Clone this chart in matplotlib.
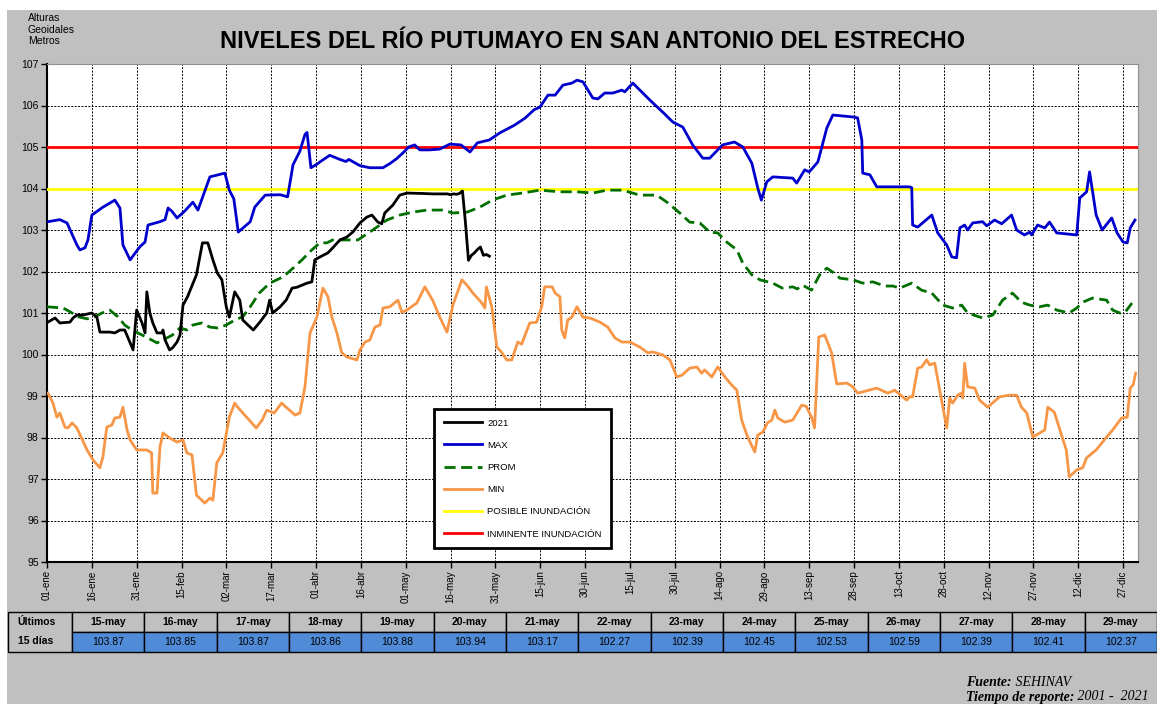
import numpy as np
import pandas as pd
import matplotlib
matplotlib.use('Agg')
import matplotlib.pyplot as plt
from matplotlib.patches import Rectangle

plt.rcParams['font.family'] = ['Liberation Sans', 'DejaVu Sans']

# --- data (day of year 0 = 01-ene, value in m) ---
tick_labels = ['01-ene', '16-ene', '31-ene', '15-feb', '02-mar', '17-mar', '01-abr', '16-abr',
               '01-may', '16-may', '31-may', '15-jun', '30-jun', '15-jul', '30-jul', '14-ago',
               '29-ago', '13-sep', '28-sep', '13-oct', '28-oct', '12-nov', '27-nov', '12-dic',
               '27-dic']

table_dates = ['15-may', '16-may', '17-may', '18-may', '19-may', '20-may', '21-may', '22-may',
               '23-may', '24-may', '25-may', '26-may', '27-may', '28-may', '29-may']
table_vals = [103.87, 103.85, 103.87, 103.86, 103.88, 103.94, 103.17, 102.27,
              102.39, 102.45, 102.53, 102.59, 102.39, 102.41, 102.37]

max_pts = [(0.3, 103.2), (4.3, 103.25), (6.7, 103.17), (8.4, 102.9), (10, 102.64), (11, 102.52),
           (12.7, 102.57), (13.7, 102.76), (15, 103.36), (18.7, 103.55), (22.7, 103.72),
           (24.4, 103.53), (25.4, 102.64), (27.8, 102.28), (31.1, 102.6), (32.8, 102.71),
           (33.8, 103.12), (37.8, 103.2), (39.5, 103.25), (40.5, 103.53), (41.8, 103.45),
           (43.5, 103.29), (46, 103.45), (48.8, 103.67), (50.5, 103.48), (54.5, 104.28),
           (59.5, 104.37), (61, 103.96), (62.5, 103.75), (64, 102.95), (68, 103.2), (69.5, 103.55),
           (73, 103.84), (78, 103.85), (80.5, 103.8), (82.3, 104.57), (84.6, 104.9), (86.3, 105.3),
           (87, 105.35), (88.3, 104.5), (90.6, 104.6), (91.3, 104.64), (94.6, 104.8), (98, 104.7),
           (100, 104.65), (101, 104.7), (104.7, 104.55), (108, 104.5), (112.4, 104.5),
           (114.7, 104.6), (117, 104.72), (119.4, 104.88), (121, 105.0), (123, 105.05),
           (124.7, 104.93), (128, 104.93), (131.4, 104.95), (134.8, 105.07), (138.5, 105.05),
           (141.5, 104.88), (144, 105.1), (148, 105.17), (151.5, 105.34), (156.5, 105.53),
           (160, 105.7), (163, 105.9), (164.9, 105.96), (167.6, 106.25), (170, 106.25),
           (172.6, 106.49), (175.6, 106.54), (177.3, 106.61), (179.3, 106.57), (182.6, 106.18),
           (184.3, 106.16), (186.6, 106.3), (189.3, 106.3), (192.3, 106.37), (193.3, 106.33),
           (196, 106.54), (201.7, 106.13), (206, 105.84), (209.4, 105.6), (212.7, 105.48),
           (216, 105.05), (219.4, 104.73), (221.7, 104.73), (226, 105.05), (230, 105.12),
           (232.8, 105.0), (235.8, 104.61), (237.8, 104.01), (239, 103.72), (240.8, 104.16),
           (242.8, 104.28), (249.5, 104.25), (250.8, 104.13), (253.5, 104.45), (255, 104.4),
           (257.9, 104.64), (260.9, 105.46), (262.9, 105.77), (270.2, 105.72), (271.2, 105.7),
           (272.6, 105.17), (272.9, 104.37), (275.3, 104.33), (277.6, 104.04), (288.6, 104.04),
           (289.3, 104.02), (289.6, 103.12), (291.3, 103.07), (296, 103.36), (298, 102.93),
           (301, 102.64), (302.7, 102.35), (304.3, 102.33), (305.4, 103.05), (307, 103.12),
           (308, 103.0), (309.7, 103.17), (313, 103.2), (314.4, 103.1), (317, 103.24),
           (319.4, 103.15), (322.7, 103.36), (324.4, 103.0), (327, 102.88), (328.8, 102.95),
           (329.4, 102.88), (331.4, 103.12), (333.8, 103.05), (335.4, 103.19), (337.8, 102.93),
           (344.5, 102.88), (345.5, 103.77), (347.8, 103.92), (348.8, 104.4), (351, 103.36),
           (353, 103.0), (356.2, 103.29), (358, 102.93), (360, 102.71), (361.4, 102.69),
           (362.4, 103.05), (364, 103.24)]

prom_pts = [(0, 101.15), (5.4, 101.12), (7.7, 101.03), (10.4, 100.91), (13.4, 100.86), (16, 100.91),
            (18.4, 101.0), (21, 101.07), (23.7, 100.91), (26, 100.71), (28.4, 100.59),
            (31.8, 100.47), (35, 100.35), (36.8, 100.28), (38.8, 100.35), (42, 100.47),
            (44.5, 100.64), (46.8, 100.59), (48.8, 100.71), (51.8, 100.76), (54.5, 100.66),
            (57, 100.64), (60, 100.71), (62.8, 100.83), (65.5, 100.91), (68, 101.15), (71, 101.48),
            (74.5, 101.72), (79, 101.87), (82.3, 102.08), (85.3, 102.28), (88.6, 102.52),
            (91.3, 102.69), (93.6, 102.69), (95.6, 102.76), (99, 102.76), (104, 102.76),
            (109, 103.0), (113.7, 103.24), (118, 103.36), (122.4, 103.43), (127, 103.48),
            (132.4, 103.48), (135.8, 103.41), (140.5, 103.43), (144.8, 103.55), (149, 103.72),
            (153.8, 103.84), (159, 103.89), (164.9, 103.96), (171.6, 103.92), (177.3, 103.92),
            (182.6, 103.89), (187.3, 103.96), (192.6, 103.96), (198.3, 103.84), (204, 103.84),
            (207.4, 103.67), (211.7, 103.41), (215, 103.19), (218.4, 103.17), (221.7, 102.95),
            (224.4, 102.93), (227.4, 102.71), (230.8, 102.52), (232.8, 102.2), (235.8, 101.92),
            (238.5, 101.8), (242.8, 101.72), (246, 101.6), (249.5, 101.63), (251, 101.58),
            (252.8, 101.67), (255.8, 101.55), (258.5, 101.92), (260.9, 102.08), (264.2, 101.92),
            (265.2, 101.84), (269.6, 101.8), (272.9, 101.72), (276.3, 101.75), (280.3, 101.65),
            (283, 101.65), (285.3, 101.6), (289.3, 101.72), (292.6, 101.55), (296, 101.48),
            (299.7, 101.19), (303, 101.12), (306, 101.19), (308, 101.0), (313, 100.88),
            (316.4, 100.95), (319.7, 101.31), (323, 101.48), (326, 101.26), (328.8, 101.19),
            (332, 101.15), (334.8, 101.19), (337.8, 101.07), (342, 101.0), (344.5, 101.12),
            (346.5, 101.26), (349.8, 101.36), (354.5, 101.31), (356.5, 101.07), (358.9, 101.0),
            (360.7, 101.02), (363, 101.24)]

min_pts = [(0.3, 99.07), (2, 98.83), (3.3, 98.49), (4.3, 98.59), (6, 98.25), (7, 98.23), (8.4, 98.35),
           (10, 98.23), (13.4, 97.7), (15.4, 97.46), (17.7, 97.27), (18.7, 97.53), (20, 98.25),
           (21.7, 98.3), (22.7, 98.47), (24.4, 98.49), (25.4, 98.73), (26.8, 98.18), (27.8, 97.94),
           (30, 97.7), (33.4, 97.7), (35, 97.63), (35.4, 96.66), (36.8, 96.66), (37.8, 97.77),
           (38.8, 98.11), (41, 97.99), (43.5, 97.89), (45.5, 97.94), (46.8, 97.63), (48.5, 97.58),
           (50, 96.61), (52.8, 96.42), (54.5, 96.54), (55.5, 96.49), (56.8, 97.39), (58.8, 97.63),
           (61, 98.49), (62.8, 98.83), (63.8, 98.73), (66.8, 98.49), (70, 98.23), (72, 98.42),
           (73.5, 98.66), (76, 98.59), (78.5, 98.83), (80, 98.73), (83, 98.54), (84.6, 98.59),
           (86.3, 99.22), (88, 100.52), (90.3, 100.9), (92.3, 101.6), (94, 101.39), (95.3, 100.9),
           (97, 100.52), (98.6, 100.04), (100.3, 99.94), (103.7, 99.87), (104.7, 100.11),
           (106.4, 100.3), (108, 100.35), (109.7, 100.66), (111.4, 100.71), (112.4, 101.12),
           (114.7, 101.15), (117.4, 101.31), (118.7, 101.02), (120.4, 101.07), (123.7, 101.24),
           (126.4, 101.63), (129, 101.31), (131.4, 100.9), (133.8, 100.54), (135.8, 101.19),
           (138.8, 101.8), (140.5, 101.67), (142.5, 101.48), (145.5, 101.24), (146.5, 101.12),
           (147, 101.63), (148.8, 101.15), (150.5, 100.18), (152, 100.06), (153.8, 99.87),
           (155.5, 99.87), (157.5, 100.3), (158.8, 100.25), (161.5, 100.76), (163.8, 100.78),
           (165.5, 101.15), (166.5, 101.63), (169, 101.63), (170, 101.48), (171.6, 101.39),
           (172.2, 100.59), (173.2, 100.4), (174.2, 100.83), (175.6, 100.9), (177.3, 101.15),
           (179.3, 100.9), (181.6, 100.88), (185, 100.78), (187.6, 100.66), (190, 100.4),
           (192.3, 100.3), (195, 100.3), (198.3, 100.18), (201, 100.04), (202.7, 100.06),
           (206, 99.99), (208.4, 99.87), (210.7, 99.46), (212.4, 99.5), (215, 99.67),
           (217.4, 99.7), (219, 99.55), (220, 99.63), (222.4, 99.46), (224.4, 99.7), (226.8, 99.46),
           (229, 99.27), (230.8, 99.14), (232.4, 98.42), (234.4, 98.01), (236.8, 97.65),
           (237.8, 98.06), (239.5, 98.13), (241, 98.35), (242.5, 98.42), (243.5, 98.66),
           (244.5, 98.47), (246.8, 98.37), (249.5, 98.42), (252.5, 98.78), (254, 98.75),
           (255.8, 98.49), (256.8, 98.23), (258.2, 100.42), (260.2, 100.47), (262.5, 100.04),
           (264.2, 99.29), (267.6, 99.31), (269.6, 99.22), (271.2, 99.07), (272.9, 99.1),
           (277.6, 99.19), (281.3, 99.07), (283.6, 99.14), (286.3, 98.98), (287.6, 98.9),
           (288.6, 98.98), (289.6, 98.98), (291.3, 99.67), (292.6, 99.7), (294.3, 99.87),
           (295.3, 99.75), (297, 99.79), (299.3, 98.9), (301, 98.23), (302, 98.95), (303, 98.83),
           (304.7, 99.02), (306, 99.07), (306.4, 98.95), (307, 99.79), (308, 99.22),
           (310.4, 99.19), (312, 98.9), (314.7, 98.73), (318.7, 98.98), (322, 99.02),
           (324.4, 99.02), (326, 98.73), (327.8, 98.59), (329.8, 98.01), (333.8, 98.18),
           (334.8, 98.73), (337, 98.61), (341, 97.7), (342, 97.05), (344.5, 97.22), (346.5, 97.27),
           (347.8, 97.51), (351, 97.7), (354.5, 98.01), (356.5, 98.18), (359.5, 98.47),
           (361.4, 98.49), (362.4, 99.19), (363.4, 99.27), (364.2, 99.55)]

# 2021 up to mid-May; the last 15 days come from the table
y2021_pts = [(0.3, 100.78), (2.7, 100.88), (4.3, 100.76), (7.7, 100.78), (8.7, 100.88), (10, 100.95),
             (12, 100.95), (15, 101.0), (16.7, 100.9), (17.7, 100.54), (21, 100.54), (22.7, 100.52),
             (24.4, 100.59), (26, 100.59), (27, 100.42), (28.8, 100.11), (30, 101.07),
             (31.8, 100.76), (32.8, 100.52), (33.4, 101.51), (34.4, 101.0), (35.4, 100.76),
             (36.8, 100.52), (38.5, 100.52), (38.8, 100.59), (39.5, 100.35), (41, 100.11),
             (42, 100.16), (43.5, 100.3), (44.5, 100.47), (45.5, 101.19), (47, 101.39),
             (50, 101.92), (52, 102.69), (53.8, 102.69), (55.5, 102.28), (57, 101.96),
             (58.5, 101.8), (60, 101.14), (61, 100.9), (62.8, 101.51), (64.5, 101.31),
             (65.5, 100.83), (69, 100.59), (71, 100.76), (73.5, 101.0), (74.5, 101.31),
             (75.5, 101.0), (78, 101.15), (80, 101.31), (82, 101.6), (83.6, 101.62), (87, 101.72),
             (88.6, 101.75), (89.6, 102.28), (91.3, 102.35), (94, 102.45), (95.6, 102.57),
             (98, 102.76), (100.3, 102.83), (102.3, 102.95), (104.7, 103.17), (107, 103.31),
             (108.7, 103.36), (110.7, 103.19), (112, 103.15), (113, 103.41), (115.7, 103.6),
             (118, 103.84), (120.4, 103.89), (125.7, 103.88), (129, 103.87)]

POSIBLE = 104.0
INMINENTE = 105.0

MESES = {'ene': 1, 'feb': 2, 'mar': 3, 'abr': 4, 'may': 5, 'jun': 6, 'jul': 7, 'ago': 8,
         'sep': 9, 'oct': 10, 'nov': 11, 'dic': 12}


def doy(label):
    d, m = label.split('-')
    return pd.Timestamp(2021, MESES[m], int(d)).dayofyear - 1


W, H = 1157, 704
fig = plt.figure(figsize=(W / 100, H / 100), dpi=100, facecolor='white')

# page layer in pixel coordinates (background, title, table, footer)
page = fig.add_axes([0, 0, 1, 1], zorder=0)
page.set_xlim(0, W)
page.set_ylim(H, 0)
page.axis('off')
page.add_patch(Rectangle((7, 10), W, H, facecolor='#C0C0C0', edgecolor='none'))

page.text(593, 42, 'NIVELES DEL RÍO PUTUMAYO EN SAN ANTONIO DEL ESTRECHO', ha='center',
          va='center', fontsize=17, fontweight='bold')
page.text(28, 13, 'Alturas\nGeoidales\nMetros', ha='left', va='top', fontsize=7.5, linespacing=1.2)

# table of last 15 days
x0, col_w = 72, (W - 72) / len(table_dates)
page.add_patch(Rectangle((8, 612), x0 - 8, 40, facecolor='#C0C0C0', edgecolor='black', lw=1))
page.text(36, 622, 'Últimos', ha='center', va='center', fontsize=7.5, fontweight='bold')
page.text(36, 641, '15 días', ha='center', va='center', fontsize=7.5, fontweight='bold')
for i, (d, v) in enumerate(zip(table_dates, table_vals)):
    cx = x0 + i * col_w
    page.add_patch(Rectangle((cx, 612), col_w, 20, facecolor='#C0C0C0', edgecolor='black', lw=1))
    page.add_patch(Rectangle((cx, 632), col_w, 20, facecolor='#4F8BD6', edgecolor='black', lw=1))
    page.text(cx + col_w / 2, 622, d, ha='center', va='center', fontsize=7.5, fontweight='bold')
    page.text(cx + col_w / 2, 642, f'{v:.2f}', ha='center', va='center', fontsize=7.5)

# footer
t1 = page.text(966, 682, 'Fuente:', family='Liberation Serif', style='italic',
               fontweight='bold', fontsize=10, va='center')
page.annotate(' SEHINAV', xy=(1, 0.5), xycoords=t1, va='center', family='Liberation Serif',
              style='italic', fontsize=10)
t2 = page.text(966, 697, 'Tiempo de reporte:', family='Liberation Serif', style='italic',
               fontweight='bold', fontsize=10, va='center')
page.annotate(' 2001 -  2021', xy=(1, 0.5), xycoords=t2, va='center', family='Liberation Serif',
              style='italic', fontsize=10)

# main chart
ax = fig.add_axes([47 / W, 1 - 562 / H, 1091 / W, 498 / H], zorder=1)
ax.set_facecolor('white')

x21, y21 = zip(*y2021_pts)
x21 = list(x21) + [doy(d) for d in table_dates]
y21 = list(y21) + table_vals
xmax, ymax = zip(*max_pts)
xprom, yprom = zip(*prom_pts)
xmin, ymin = zip(*min_pts)

ax.plot(x21, y21, color='black', lw=2, label='2021', zorder=5)
ax.plot(xmax, ymax, color='#0000CC', lw=2, label='MAX', zorder=4)
ax.plot(xprom, yprom, color='#006F00', lw=2, ls=(0, (4, 2)), label='PROM', zorder=4)
ax.plot(xmin, ymin, color='#F79646', lw=2, label='MIN', zorder=4)
ax.axhline(POSIBLE, color='#FFFF00', lw=2, label='POSIBLE INUNDACIÓN', zorder=3)
ax.axhline(INMINENTE, color='#FF0000', lw=2, label='INMINENTE INUNDACIÓN', zorder=3)

ax.set_xlim(0, 365)
ax.set_ylim(95, 107)
ax.set_yticks(np.arange(95, 108, 1))
ax.set_xticks([doy(t) for t in tick_labels])
ax.set_xticklabels(tick_labels, rotation=90, fontsize=7)
ax.tick_params(axis='y', labelsize=7.5, direction='out', length=4, width=1, pad=2)
ax.tick_params(axis='x', direction='out', length=4, width=1, pad=2)
ax.set_axisbelow(True)
ax.grid(True, color='black', lw=0.7, ls=(0, (2, 1.5)))
for s in ['left', 'bottom']:
    ax.spines[s].set_linewidth(1.5)
for s in ['top', 'right']:
    ax.spines[s].set_color('#909090')
    ax.spines[s].set_linewidth(0.8)

leg = ax.legend(loc='lower left', bbox_to_anchor=(0.355, 0.028), fontsize=6.8, fancybox=False,
                edgecolor='black', framealpha=1, labelspacing=1.4, handlelength=4.0,
                handletextpad=0.6, borderpad=1.0, borderaxespad=0)
leg.get_frame().set_linewidth(2)

fig.savefig('out.png', dpi=100)
